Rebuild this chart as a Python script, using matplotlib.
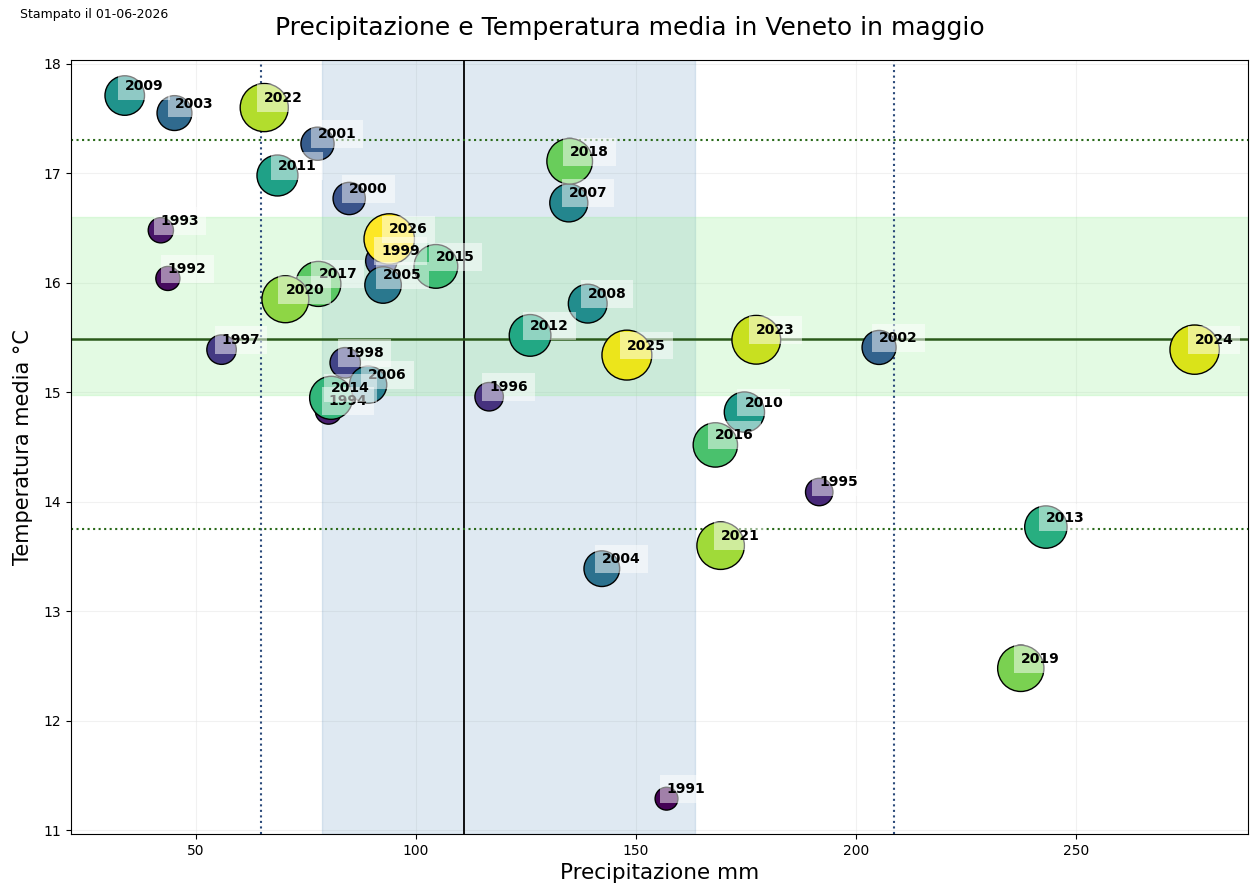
import matplotlib
matplotlib.use("Agg")
import matplotlib.pyplot as plt
import numpy as np

years = list(range(1991, 2027))
precip = [157.0, 43.7, 42.1, 80.2, 191.7, 116.7, 55.9, 84.0, 92.2, 84.9,
          77.7, 205.3, 45.2, 142.3, 92.6, 89.2, 134.8, 139.1, 33.9, 174.7,
          68.6, 126.0, 243.2, 80.8, 104.6, 168.1, 77.9, 135.0, 237.5, 70.4,
          169.3, 65.6, 177.4, 277.0, 148.0, 94.0]
temp = [11.29, 16.04, 16.48, 14.83, 14.09, 14.96, 15.39, 15.27, 16.20, 16.77,
        17.27, 15.41, 17.55, 13.39, 15.98, 15.07, 16.73, 15.81, 17.71, 14.82,
        16.98, 15.52, 13.77, 14.95, 16.15, 14.52, 15.99, 17.11, 12.48, 15.85,
        13.60, 17.60, 15.48, 15.39, 15.34, 16.40]

precip_mean = 111.0
precip_band = (78.8, 163.4)
precip_dotted = (64.8, 208.8)
temp_mean = 15.49
temp_band = (14.98, 16.60)
temp_dotted = (13.75, 17.30)

title = "Precipitazione e Temperatura media in Veneto in maggio"
xlabel = "Precipitazione mm"
ylabel = "Temperatura media °C"
stamp = "Stampato il 01-06-2026"

plt.rcParams["font.family"] = ["DejaVu Sans"]

fig = plt.figure(figsize=(12.5, 8.88), dpi=100)
ax = fig.add_axes([0.057, 0.061, 0.9415, 0.871])

ax.grid(True, color="#e4e4e4", alpha=0.5, linewidth=0.8)
ax.set_axisbelow(True)

ax.axvspan(*precip_band, color="steelblue", alpha=0.17, zorder=1)
ax.axhspan(*temp_band, color="lightgreen", alpha=0.25, zorder=1)
ax.axvline(precip_mean, color="black", linewidth=1.3, zorder=2)
ax.axhline(temp_mean, color="#2a5a1a", linewidth=1.8, zorder=2)
for v in precip_dotted:
    ax.axvline(v, color="#2b4a7a", linestyle=":", linewidth=1.5, zorder=2)
for v in temp_dotted:
    ax.axhline(v, color="#2a6a1a", linestyle=":", linewidth=1.5, zorder=2)

yrs = np.array(years)
sizes = 30 * (yrs - 1982)
ax.scatter(precip, temp, s=sizes, c=yrs, cmap="viridis",
           vmin=years[0], vmax=years[-1], edgecolors="black",
           linewidths=1.0, zorder=3)

for yr, x, y in zip(years, precip, temp):
    ax.annotate(str(yr), (x, y), xytext=(0, 4), textcoords="offset points",
                ha="left", va="baseline", fontsize=10, fontweight="bold",
                bbox=dict(boxstyle="square,pad=0.5", facecolor="white",
                          edgecolor="none", alpha=0.5),
                zorder=4)

ax.set_xlabel(xlabel, fontsize=15.5)
ax.set_ylabel(ylabel, fontsize=15, labelpad=8)
ax.set_yticks(range(11, 19))
ax.set_xticks([50, 100, 150, 200, 250])
ax.tick_params(labelsize=10)

fig.suptitle(title, fontsize=18, x=0.504, y=0.968, va="center")
fig.text(0.016, 0.984, stamp, fontsize=9, va="center")

fig.savefig("out.png", dpi=100)
